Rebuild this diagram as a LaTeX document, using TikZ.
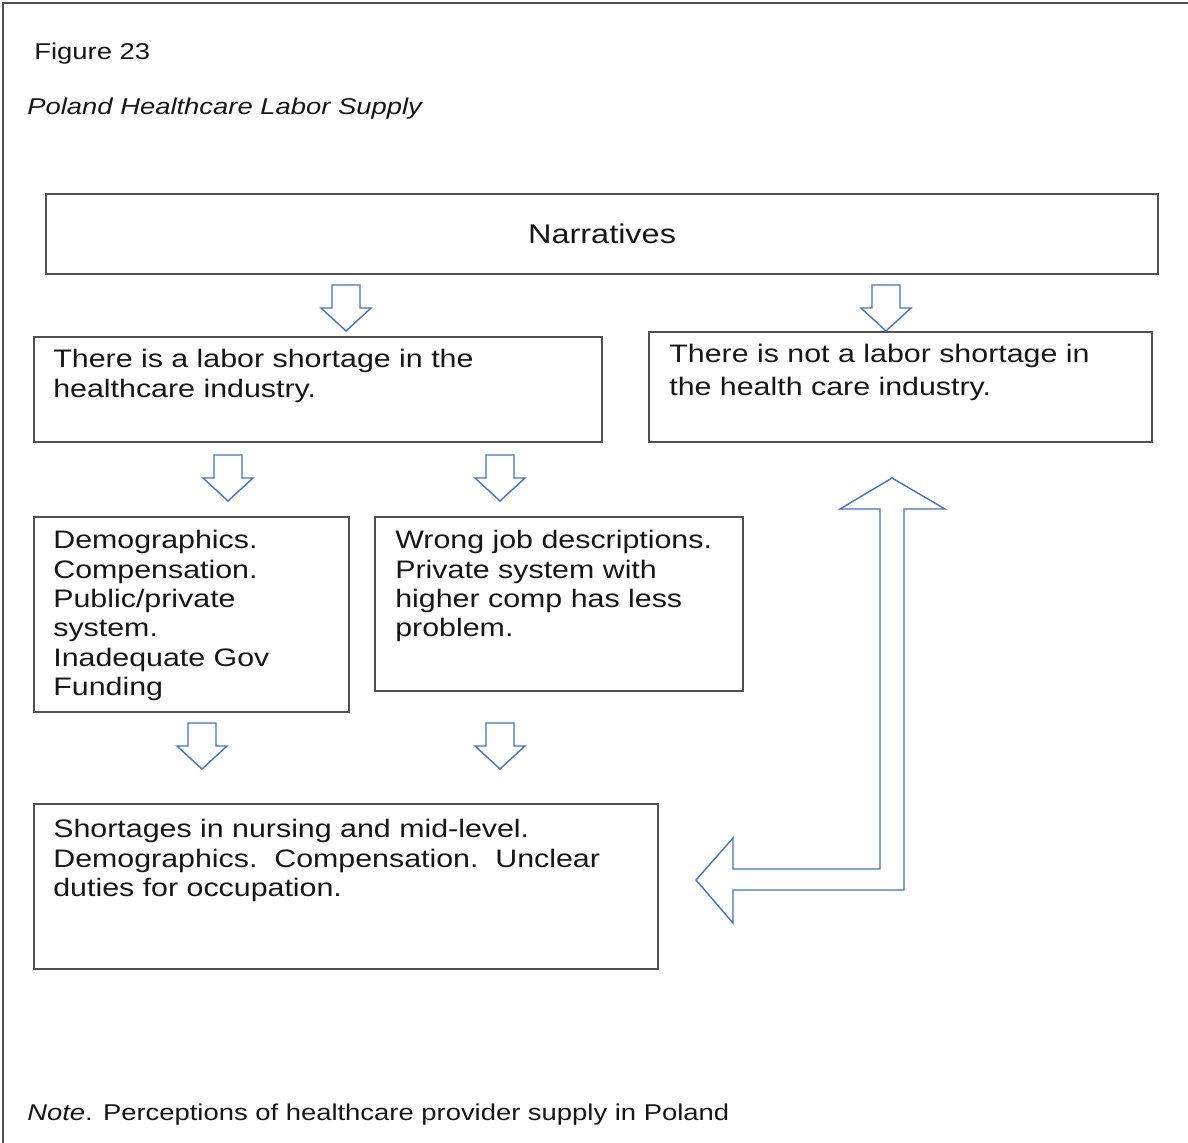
\documentclass[tikz,border=0pt]{standalone}
\usepackage{fontspec}
\setmainfont{Liberation Sans}[FakeStretch=1.2]
\usepackage{tikz}

\definecolor{boxline}{RGB}{80,80,80}
\definecolor{arrowblue}{RGB}{68,114,196}
\definecolor{ink}{RGB}{22,22,22}
\newcommand{\px}{0.02cm}

\tikzset{
  box/.style={draw=boxline, line width=1.2pt, anchor=north west, inner sep=0pt},
  txt/.style={anchor=north west, inner sep=0pt, align=left, text=ink,
    font=\fontsize{14.4}{16.7}\selectfont},
  captxt/.style={anchor=base west, inner sep=0pt, text=ink,
    font=\fontsize{13}{15.6}\selectfont},
  blockarrow/.style={draw=arrowblue, line width=0.8pt, line join=miter}
}

\begin{document}
\begin{tikzpicture}
[x=0.02cm,y=-0.02cm]
\useasboundingbox (0,0) rectangle (1188,1143);
\draw[boxline, line width=1.2pt] (3,1143) -- (3,3) -- (1188,3);

\node[captxt] (fig) at (34,59) {Figure 23};
\node[captxt] (title) at (27,114) {\itshape Poland Healthcare Labor Supply};

\node[box, minimum width=1112*\px, minimum height=80*\px] (narr) at (45,193) {};
\node[text=ink, font=\fontsize{15.4}{18}\selectfont] (narrtxt) at (narr.center) {Narratives};

\node[box, minimum width=568*\px, minimum height=105*\px] (short) at (33,336) {};
\node[txt] (shorttxt) at (53,349) {There is a labor shortage in the\\healthcare industry.};

\node[box, minimum width=503*\px, minimum height=110*\px] (noshort) at (648,331) {};
\node[txt] (noshorttxt) at (669,344) {There is not a labor shortage in\\[0.06cm]the health care industry.};

\node[box, minimum width=315*\px, minimum height=195*\px] (causes) at (33,516) {};
\node[txt] (causestxt) at (53,530) {Demographics.\\Compensation.\\Public/private\\system.\\Inadequate Gov\\Funding};

\node[box, minimum width=368*\px, minimum height=174*\px] (jobs) at (374,516) {};
\node[txt] (jobstxt) at (395,530) {Wrong job descriptions.\\Private system with\\higher comp has less\\problem.};

\node[box, minimum width=624*\px, minimum height=165*\px] (result) at (33,803) {};
\node[txt] (resulttxt) at (53,819) {Shortages in nursing and mid-level.\\Demographics.\ \ Compensation.\ \ Unclear\\duties for occupation.};

\node[captxt] (note) at (27,1120) {\itshape Note\upshape. Perceptions of healthcare provider supply in Poland};

% hollow down arrows
\foreach \cx/\ty in {346/285,886/285,228/455,500/455,202/723,500/723}
\draw[blockarrow] (\cx-14,\ty) -- ++(28,0) -- ++(0,23) -- ++(11,0) -- (\cx,\ty+46) -- ++(-25,-23) -- ++(11,0) -- cycle;

% bent arrow back to the shortage box
\draw[blockarrow] (880,509) -- (840,509) -- (892,478) -- (945,509) -- (904,509) -- (904,890) -- (733,890) -- (733,923) -- (696,880) -- (733,838) -- (733,869) -- (880,869) -- cycle;
\end{tikzpicture}
\end{document}
